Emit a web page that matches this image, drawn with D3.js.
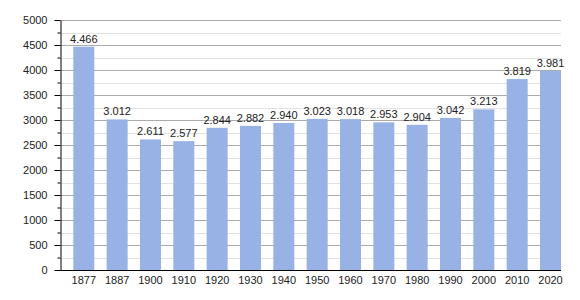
<!DOCTYPE html>
<html>
<head>
<meta charset="utf-8">
<script src="https://cdn.jsdelivr.net/npm/d3@7"></script>
<style>
  body { margin: 0; background: #fff; }
  text { font-family: "Liberation Sans", Arial, sans-serif; fill: #222; }
</style>
</head>
<body>
<div id="chart"></div>
<script>
// population by census year
var years = ["1877", "1887", "1900", "1910", "1920", "1930", "1940", "1950", "1960", "1970", "1980", "1990", "2000", "2010", "2020"];
var population = [4466, 3012, 2611, 2577, 2844, 2882, 2940, 3023, 3018, 2953, 2904, 3042, 3213, 3819, 3981];
var yTicks = [0, 500, 1000, 1500, 2000, 2500, 3000, 3500, 4000, 4500, 5000];

var width = 580, height = 300;
var plotLeft = 60.5, plotRight = 561, plotTop = 20, plotBottom = 270;

var svg = d3.select("#chart")
  .append("svg")
    .attr("width", width)
    .attr("height", height);

var y = d3.scaleLinear().domain([0, 5000]).range([plotBottom, plotTop]);

// bars start a little after the axis and the last one touches the right edge
var x = d3.scaleBand()
  .domain(years)
  .range([73.3, plotRight])
  .paddingInner(0.37)
  .paddingOuter(0);

// minor grid every 250
var minor = d3.range(250, 5000, 500);
svg.selectAll(".minor")
  .data(minor)
  .enter()
  .append("line")
    .attr("x1", plotLeft).attr("x2", plotRight)
    .attr("y1", function(d){ return Math.round(y(d)) + 0.5 })
    .attr("y2", function(d){ return Math.round(y(d)) + 0.5 })
    .style("stroke", "#e2e2e2");

// major grid every 500
svg.selectAll(".major")
  .data(yTicks.slice(1))
  .enter()
  .append("line")
    .attr("x1", plotLeft).attr("x2", plotRight)
    .attr("y1", function(d){ return Math.round(y(d)) + 0.5 })
    .attr("y2", function(d){ return Math.round(y(d)) + 0.5 })
    .style("stroke", "#ababab");

// bars
svg.selectAll(".bar")
  .data(population)
  .enter()
  .append("rect")
    .attr("x", function(d, i){ return x(years[i]) })
    .attr("y", function(d){ return y(d) })
    .attr("width", x.bandwidth())
    .attr("height", function(d){ return plotBottom - y(d) })
    .style("fill", "#98b2e5");

// value labels (thousands dot)
svg.selectAll(".val")
  .data(population)
  .enter()
  .append("text")
    .attr("x", function(d, i){ return x(years[i]) + x.bandwidth() / 2 })
    .attr("y", function(d){ return y(d) - 4 })
    .attr("text-anchor", "middle")
    .style("font-size", "11px")
    .text(function(d){ return d3.format(",")(d).replace(",", ".") });

// left axis with major + minor ticks
var yAxis = d3.axisLeft(y).tickValues(yTicks).tickFormat(d3.format("d")).tickSize(6).tickPadding(7).tickSizeOuter(0);
var ga = svg.append("g").attr("transform", "translate(" + plotLeft + ",0)").call(yAxis);
ga.selectAll("text").style("font-size", "11px").style("font-family", "Liberation Sans, Arial, sans-serif").attr("fill", "#222");
ga.selectAll("line").attr("stroke", "#000");
ga.select(".domain").attr("stroke", "#000");

var minorAxis = d3.axisLeft(y).tickValues(minor).tickSize(3).tickFormat("").tickSizeOuter(0);
var gm = svg.append("g").attr("transform", "translate(" + plotLeft + ",0)").call(minorAxis);
gm.select(".domain").remove();
gm.selectAll("line").attr("stroke", "#000");

// bottom axis
var xAxis = d3.axisBottom(x).tickSize(0).tickPadding(6);
var gx = svg.append("g").attr("transform", "translate(0," + (plotBottom + 0.5) + ")").call(xAxis);
gx.select(".domain").attr("d", "M" + plotLeft + ",0H" + plotRight).attr("stroke", "#000");
gx.selectAll("text").style("font-size", "11px").style("font-family", "Liberation Sans, Arial, sans-serif").attr("fill", "#222");
</script>
</body>
</html>
